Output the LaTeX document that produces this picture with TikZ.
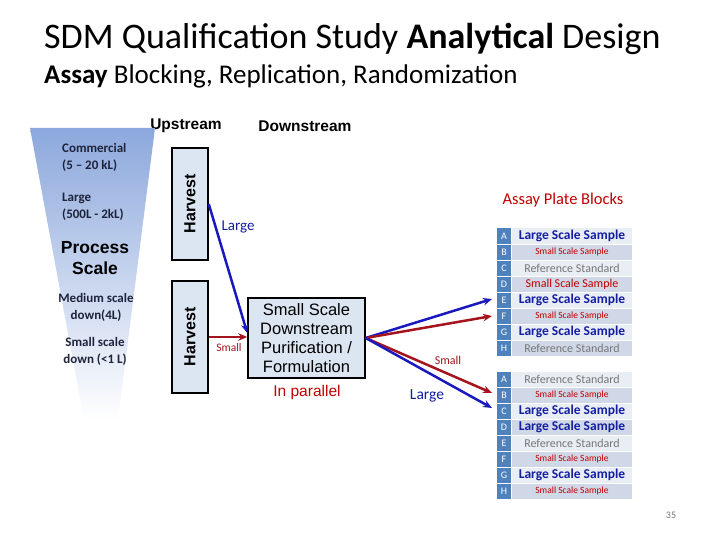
\documentclass[tikz,border=0pt]{standalone}
\usepackage{fontspec}
\setmainfont{Carlito}
\newfontfamily\arialf{Liberation Sans}
\usetikzlibrary{arrows.meta,calc}
\definecolor{cellblue}{HTML}{4F81BD}
\definecolor{bandA}{HTML}{E9EDF4}
\definecolor{bandB}{HTML}{D0D8E8}
\definecolor{navy}{RGB}{20,30,160}
\definecolor{darkred}{RGB}{192,0,0}
\definecolor{lineblue}{RGB}{25,25,190}
\definecolor{linered}{RGB}{165,20,30}
\definecolor{boxfill}{RGB}{220,230,242}
\definecolor{funneltop}{RGB}{140,168,220}
\definecolor{funneltext}{RGB}{30,35,60}
\definecolor{refgray}{RGB}{118,118,118}
\newcommand{\fsz}[2]{\fontsize{#1}{#2}\selectfont}
\tikzset{
  hbox/.style={draw=black, line width=1.5pt, fill=boxfill, minimum width=36, minimum height=112, inner sep=0},
  arr/.style={line width=2.5pt, -{Stealth[length=9pt,width=7.5pt]}},
  rowcell/.style={draw=white, line width=1pt, minimum width=121, minimum height=16, inner sep=0},
  lettercell/.style={draw=white, line width=1pt, fill=cellblue, text=white, minimum width=15, minimum height=16, inner sep=0, font=\fsz{10}{11}},
  rowL/.style={text=navy, font=\bfseries\fsz{13.5}{14}},
  rowS/.style={text=darkred, font=\fsz{12}{13}},
  rowT/.style={text=darkred, font=\fsz{9.5}{10}},
  rowR/.style={text=refgray, font=\fsz{12}{13}},
  ftext/.style={text=funneltext, inner sep=0, font=\bfseries\fsz{13}{17}}
}
\begin{document}
\begin{tikzpicture}[x=1pt,y=-1pt]
\useasboundingbox (0,0) rectangle (720,540);

% titles
\node[anchor=base west, inner sep=0, font=\fsz{36}{40}] (title) at (44,49) {SDM Qualification Study \textbf{Analytical} Design};
\node[anchor=base west, inner sep=0, font=\fsz{27}{30}] (subtitle) at (44,84) {\textbf{Assay} Blocking, Replication, Randomization};

% headers
\node[inner sep=0, font=\arialf\bfseries\fsz{15.5}{18}] (up) at (186,126) {Upstream};
\node[inner sep=0, font=\arialf\bfseries\fsz{15.5}{18}] (down) at (305,126) {Downstream};

% funnel
\shade[top color=funneltop, bottom color=white] (30,128) -- (155,128) -- (118,420) -- (84,420) -- cycle;
\node[ftext, anchor=west, align=left] (comm) at (62,157) {Commercial\\(5 -- 20 kL)};
\node[ftext, anchor=west, align=left] (large) at (62,207) {Large\\(500L - 2kL)};
\node[inner sep=0, align=center, font=\arialf\bfseries\fsz{17.5}{21}, text=black] (ps) at (95,258) {Process\\Scale};
\node[ftext, align=center] (med) at (96,307) {Medium scale\\down(4L)};
\node[ftext, align=center] (small) at (95,351) {Small scale\\down (<1 L)};

% harvest boxes
\node[hbox] (h1) at (190,204) {};
\node[rotate=90, inner sep=0, font=\arialf\bfseries\fsz{16}{18}] (h1t) at (h1) {Harvest};
\node[hbox] (h2) at (190,337) {};
\node[rotate=90, inner sep=0, font=\arialf\bfseries\fsz{16}{18}] (h2t) at (h2) {Harvest};

% small scale downstream box
\node[draw=black, line width=1.5pt, fill=boxfill, minimum width=117, minimum height=80, inner sep=1pt, align=center, font=\arialf\fsz{16.5}{19}] (ssd) at (306.5,338) {Small Scale\\Downstream\\Purification /\\Formulation};
\node[inner sep=0, text=darkred, font=\arialf\fsz{15.5}{18}] (par) at (307,392) {In parallel};

% plate blocks
\node[inner sep=0, text=darkred, font=\fsz{16.5}{18}] (apb) at (563,200) {Assay Plate Blocks};
\foreach \i/\l/\b/\s/\t in {1/A/bandA/rowL/Large Scale Sample, 2/B/bandB/rowT/Small Scale Sample, 3/C/bandA/rowR/Reference Standard, 4/D/bandB/rowS/Small Scale Sample, 5/E/bandA/rowL/Large Scale Sample, 6/F/bandB/rowT/Small Scale Sample, 7/G/bandA/rowL/Large Scale Sample, 8/H/bandB/rowR/Reference Standard} {
  \node[rowcell, fill=\b, \s] (r1\l) at (572,{220+16*\i}) {\t};
  \node[lettercell] (p1\l) at (504,{220+16*\i}) {\l};
}
\foreach \i/\l/\b/\s/\t in {1/A/bandA/rowR/Reference Standard, 2/B/bandB/rowT/Small Scale Sample, 3/C/bandA/rowL/Large Scale Sample, 4/D/bandB/rowL/Large Scale Sample, 5/E/bandA/rowR/Reference Standard, 6/F/bandB/rowT/Small Scale Sample, 7/G/bandA/rowL/Large Scale Sample, 8/H/bandB/rowT/Small Scale Sample} {
  \node[rowcell, fill=\b, \s] (r2\l) at (572,{363+16*\i}) {\t};
  \node[lettercell] (p2\l) at (504,{363+16*\i}) {\l};
}

% connectors
\draw[arr, lineblue] (h1.east) -- ([yshift=5pt]ssd.west);
\draw[arr, linered] (h2.east) -- (h2.east -| ssd.west);
\node[inner sep=0, text=navy, font=\fsz{15}{17}] (lgl) at (238,227) {Large};
\node[inner sep=0, text=linered, font=\fsz{11.5}{13}] (sml) at (229,348) {Small};

\coordinate (src) at (ssd.east);
\draw[arr, lineblue] (src) -- ([xshift=-4pt,yshift=1pt]p1E.west);
\draw[arr, linered] (src) -- ([xshift=-4pt]p1F.west);
\draw[arr, linered] (src) -- ([xshift=-4pt,yshift=2pt]p2B.west);
\draw[arr, lineblue] (src) -- ([xshift=-4pt,yshift=3pt]p2C.west);
\node[inner sep=0, text=linered, font=\fsz{12}{14}] (fs) at (448,360) {Small};
\node[inner sep=0, text=navy, font=\fsz{15.5}{17}] (fl) at (427,396) {Large};

% page number
\node[inner sep=0, text=refgray, font=\fsz{10}{12}] (pg) at (671,515) {35};
\end{tikzpicture}
\end{document}
